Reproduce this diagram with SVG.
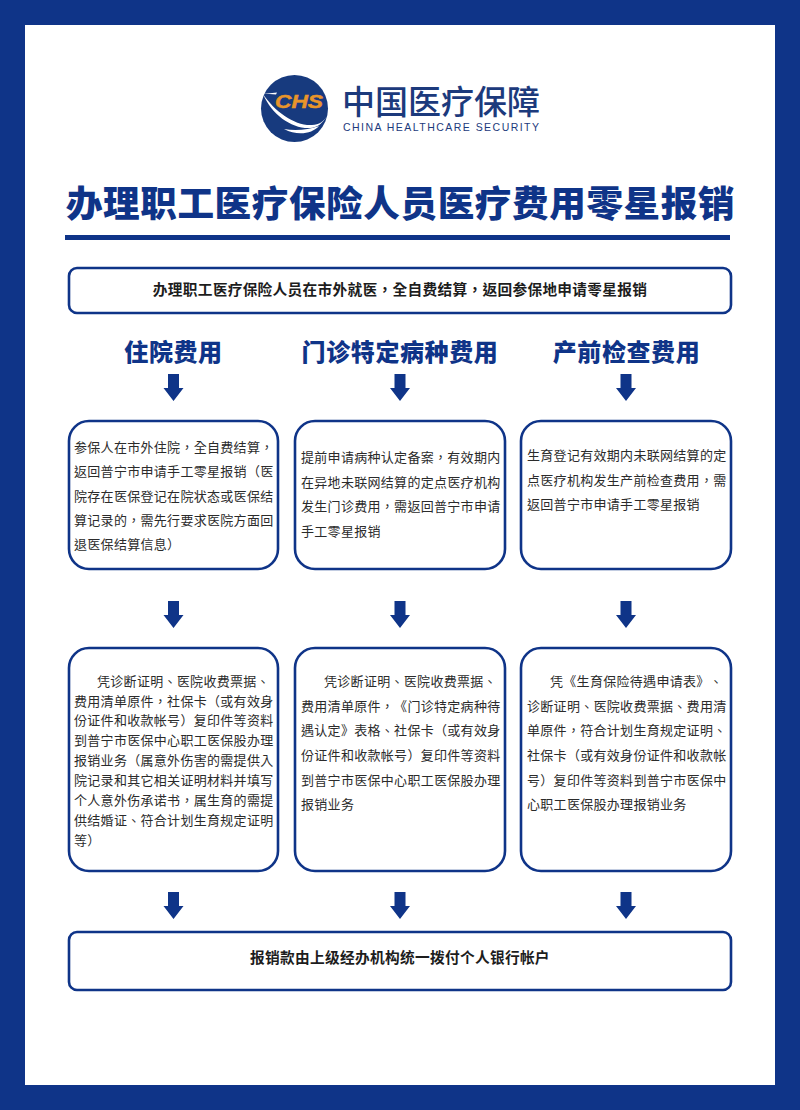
<svg xmlns="http://www.w3.org/2000/svg" width="800" height="1110" viewBox="0 0 800 1110">
<style>
text{font-family:"Noto Sans CJK TC","Noto Sans CJK SC","Liberation Sans",sans-serif;text-spacing-trim:space-all}
.box{fill:#fff;stroke:#0f3488;stroke-width:2.6}
.b{font-size:13px;letter-spacing:.3px;fill:#2b2b2b}
.strong{font-size:14.7px;font-weight:700;fill:#1d1d1d;text-anchor:middle;letter-spacing:.3px}
.head{font-size:24px;font-weight:900;fill:#0f3488;text-anchor:middle;letter-spacing:.6px}
.ar{fill:#0f3488}
</style>
<defs><path id="arrow" d="M-5.5 0H5.5V14H10L0 27L-10 14H-5.5Z"/></defs>
<rect width="800" height="1110" fill="#0f3488"/>
<rect x="25" y="25" width="750" height="1060" fill="#fff"/>
<g id="logo">
<circle cx="294.5" cy="108.5" r="33.5" fill="#173a7e"/>
<path d="M263 94C275 112 295 126 312 125C319 125 324 121 327 116C323 123 317 128 310 128C292 129 272 115 263 94Z" fill="#fff"/>
<path d="M263 94L277 92.500L276 94.500C272 94 267 94 263 94Z" fill="#fff"/>
<path d="M284 129C295 131 308 130 319 126C312 134 297 136 284 129Z" fill="#fff"/>
<text x="275" y="107.500" font-size="19" font-weight="900" font-style="italic" fill="#e8952a" stroke="#e8952a" stroke-width=".5" style="font-family:'Liberation Sans',sans-serif" textLength="48" lengthAdjust="spacingAndGlyphs">CHS</text>
<text x="342" y="114" font-size="33" font-weight="500" fill="#1c3a7c" style="font-family:'Noto Sans CJK SC',sans-serif" textLength="198">中国医疗保障</text>
<text x="343" y="131" font-size="10.5" fill="#1c3a7c" style="font-family:'Liberation Sans',sans-serif" textLength="196">CHINA HEALTHCARE SECURITY</text>
</g>
<g id="title">
<text x="400.500" y="217" font-size="36.6" font-weight="900" fill="#0f3488" text-anchor="middle" letter-spacing=".6" style="font-family:'Noto Sans CJK SC',sans-serif">办理职工医疗保险人员医疗费用零星报销</text>
<rect x="65" y="235" width="665" height="5" fill="#0f3488"/>
</g>
<g id="top-box">
<rect class="box" x="69" y="268" width="662" height="45" rx="8"/>
<text class="strong" x="400" y="295">办理职工医疗保险人员在市外就医，全自费结算，返回参保地申请零星报销</text>
</g>
<g id="col-heads">
<text class="head" x="173.5" y="361">住院费用</text>
<text class="head" x="400" y="361">门诊特定病种费用</text>
<text class="head" x="626.5" y="361">产前检查费用</text>
</g>
<g id="connectors" class="ar">
<use href="#arrow" x="173.5" y="374"/><use href="#arrow" x="400" y="374"/><use href="#arrow" x="626" y="374"/>
<use href="#arrow" x="173.5" y="601"/><use href="#arrow" x="400" y="601"/><use href="#arrow" x="626" y="601"/>
<use href="#arrow" x="173.5" y="892"/><use href="#arrow" x="400" y="892"/><use href="#arrow" x="626" y="892"/>
</g>
<g id="node-a1">
<rect class="box" x="69" y="421" width="209" height="148" rx="20"/>
<text class="b" x="74" y="452">参保人在市外住院，全自费结算，</text>
<text class="b" x="74" y="476">返回普宁市申请手工零星报销（医</text>
<text class="b" x="74" y="501">院存在医保登记在院状态或医保结</text>
<text class="b" x="74" y="525">算记录的，需先行要求医院方面回</text>
<text class="b" x="74" y="549">退医保结算信息）</text>
</g>
<g id="node-b1">
<rect class="box" x="295" y="421" width="210" height="148" rx="20"/>
<text class="b" x="301" y="462">提前申请病种认定备案，有效期内</text>
<text class="b" x="301" y="487">在异地未联网结算的定点医疗机构</text>
<text class="b" x="301" y="511">发生门诊费用，需返回普宁市申请</text>
<text class="b" x="301" y="536">手工零星报销</text>
</g>
<g id="node-c1">
<rect class="box" x="521" y="421" width="210" height="148" rx="20"/>
<text class="b" x="527" y="460">生育登记有效期内未联网结算的定</text>
<text class="b" x="527" y="485">点医疗机构发生产前检查费用，需</text>
<text class="b" x="527" y="509">返回普宁市申请手工零星报销</text>
</g>
<g id="node-a2">
<rect class="box" x="69" y="648" width="209" height="223" rx="20"/>
<text class="b" x="97" y="686">凭诊断证明、医院收费票据、</text>
<text class="b" x="74" y="706">费用清单原件，社保卡（或有效身</text>
<text class="b" x="74" y="725">份证件和收款帐号）复印件等资料</text>
<text class="b" x="74" y="745">到普宁市医保中心职工医保股办理</text>
<text class="b" x="74" y="765">报销业务（属意外伤害的需提供入</text>
<text class="b" x="74" y="785">院记录和其它相关证明材料并填写</text>
<text class="b" x="74" y="805">个人意外伤承诺书，属生育的需提</text>
<text class="b" x="74" y="825">供结婚证、符合计划生育规定证明</text>
<text class="b" x="74" y="845">等）</text>
</g>
<g id="node-b2">
<rect class="box" x="295" y="648" width="210" height="223" rx="20"/>
<text class="b" x="324" y="686">凭诊断证明、医院收费票据、</text>
<text class="b" x="301" y="711">费用清单原件，《门诊特定病种待</text>
<text class="b" x="301" y="735">遇认定》表格、社保卡（或有效身</text>
<text class="b" x="301" y="760">份证件和收款帐号）复印件等资料</text>
<text class="b" x="301" y="785">到普宁市医保中心职工医保股办理</text>
<text class="b" x="301" y="809">报销业务</text>
</g>
<g id="node-c2">
<rect class="box" x="521" y="648" width="210" height="223" rx="20"/>
<text class="b" x="550" y="686">凭《生育保险待遇申请表》、</text>
<text class="b" x="527" y="711">诊断证明、医院收费票据、费用清</text>
<text class="b" x="527" y="735">单原件，符合计划生育规定证明、</text>
<text class="b" x="527" y="760">社保卡（或有效身份证件和收款帐</text>
<text class="b" x="527" y="785">号）复印件等资料到普宁市医保中</text>
<text class="b" x="527" y="809">心职工医保股办理报销业务</text>
</g>
<g id="bottom-box">
<rect class="box" x="69" y="932" width="662" height="58" rx="8"/>
<text class="strong" x="400" y="963">报销款由上级经办机构统一拨付个人银行帐户</text>
</g>
</svg>
